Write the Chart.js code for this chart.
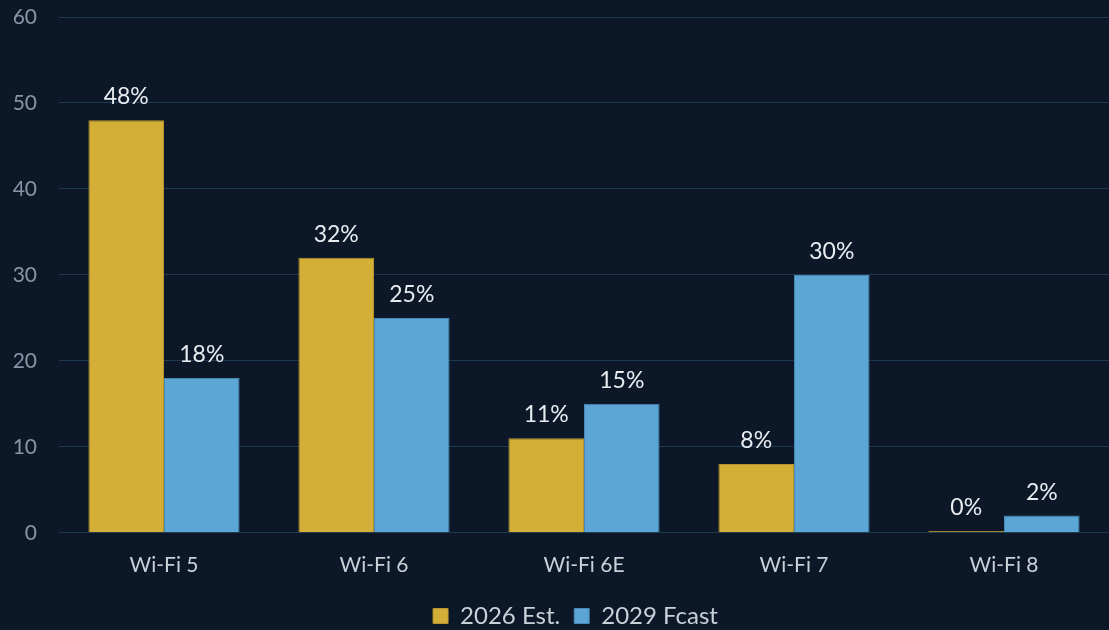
<!DOCTYPE html>
<html>
<head>
<meta charset="utf-8">
<script src="https://cdn.jsdelivr.net/npm/chart.js@4"></script>
<style>
  html, body { margin: 0; padding: 0; background: #0c1828; }
  #wrap { width: 1109px; height: 630px; }
</style>
</head>
<body>
<div id="wrap"><canvas id="myChart" width="1109" height="630"></canvas></div>
<script>
const labels = ["Wi-Fi 5", "Wi-Fi 6", "Wi-Fi 6E", "Wi-Fi 7", "Wi-Fi 8"];
const est2026 = [48, 32, 11, 8, 0.2];
const fcast2029 = [18, 25, 15, 30, 2];
const yTicks = [0, 10, 20, 30, 40, 50, 60];

// draws the "48%" style labels above each bar
const valueLabels = {
  id: "valueLabels",
  afterDatasetsDraw(chart) {
    const ctx = chart.ctx;
    ctx.save();
    ctx.font = "23px Lato";
    ctx.fillStyle = "#e8ecf0";
    ctx.textAlign = "center";
    ctx.textBaseline = "bottom";
    chart.data.datasets.forEach(function (ds, i) {
      chart.getDatasetMeta(i).data.forEach(function (bar, j) {
        ctx.fillText(Math.round(ds.data[j]) + "%", bar.x, bar.y - 12);
      });
    });
    ctx.restore();
  },
};

// legend in the original sits a little right of the canvas centre
const legendShift = {
  id: "legendShift",
  afterLayout(chart) {
    if (chart.legend) chart.legend.left += 42;
  },
};

document.addEventListener("DOMContentLoaded", function () {
  const cha = document.getElementById("myChart").getContext("2d");

  new Chart(cha, {
    type: "bar",
    data: {
      labels,
      datasets: [
        {
          label: "2026 Est.",
          data: est2026,
          backgroundColor: "#d4af37",
          borderColor: "#b8952c",
          borderWidth: 1,
        },
        {
          label: "2029 Fcast",
          data: fcast2029,
          backgroundColor: "#5ca6d6",
          borderColor: "#4a88b4",
          borderWidth: 1,
        },
      ],
    },
    options: {
      responsive: false,
      animation: false,
      layout: { padding: { top: 0, left: 0, right: 0, bottom: -8 } },
      datasets: {
        bar: { categoryPercentage: 0.72, barPercentage: 1.0 },
      },
      scales: {
        x: {
          grid: { display: false },
          border: { display: false },
          ticks: { color: "#c8d0d8", font: { family: "Lato", size: 21 }, padding: 12 },
        },
        y: {
          min: 0,
          max: 60,
          afterBuildTicks: function (axis) {
            axis.ticks = yTicks.map(function (v) { return { value: v }; });
          },
          afterFit: function (axis) {
            axis.width = 59;
            axis.paddingTop = 17;
            axis.paddingBottom = 0;
          },
          grid: { color: "#1e3850", lineWidth: 1, drawTicks: false },
          border: { display: false },
          ticks: { color: "#8796a6", font: { family: "Lato", size: 21 }, padding: 22 },
        },
      },
      plugins: {
        legend: {
          display: true,
          position: "bottom",
          labels: {
            color: "#c8d0d8",
            font: { family: "Lato", size: 24 },
            boxWidth: 15,
            boxHeight: 15,
            padding: 14,
          },
        },
        tooltip: { enabled: false },
      },
    },
    plugins: [valueLabels, legendShift],
  });
});
</script>
</body>
</html>
